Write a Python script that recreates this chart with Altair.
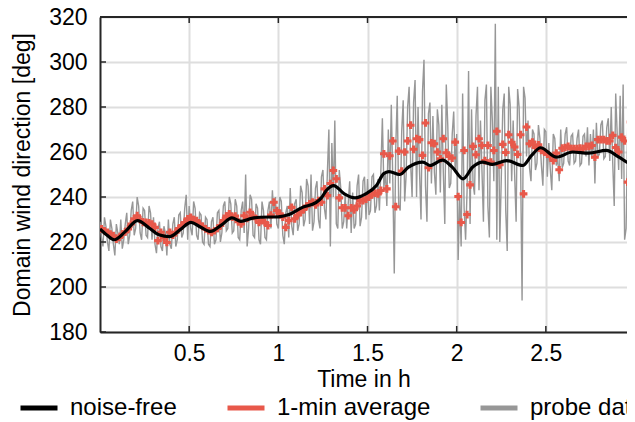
import altair as alt
import pandas as pd

# ---- noise-free reference signal (time in h, direction in deg) ----
NF_T = [0.0, 0.04, 0.08, 0.14, 0.21, 0.28, 0.33, 0.39, 0.45, 0.51, 0.56, 0.62, 0.68, 0.74,
        0.79, 0.85, 0.90, 1.00, 1.06, 1.135, 1.21, 1.24, 1.27, 1.31, 1.37, 1.43, 1.49, 1.55,
        1.59, 1.62, 1.68, 1.73, 1.81, 1.85, 1.92, 1.975, 2.036, 2.09, 2.145, 2.2, 2.28,
        2.37, 2.42, 2.47, 2.56, 2.65, 2.74, 2.84, 2.91, 2.98, 3.0]
NF_V = [225.8, 223.0, 221.0, 224.5, 229.5, 226.0, 223.2, 222.4, 225.5, 228.7, 226.8, 224.7,
        227.5, 230.7, 229.2, 230.5, 231.0, 231.2, 232.2, 235.4, 237.5, 239.5, 243.0, 245.1,
        241.4, 239.6, 241.4, 245.1, 250.3, 251.3, 250.0, 253.3, 255.5, 254.0, 256.4, 253.3,
        248.1, 253.3, 255.5, 254.5, 256.2, 254.0, 258.5, 261.9, 257.7, 260.0, 259.5, 260.7,
        257.7, 254.8, 255.0]

# ---- 1-min averages (one per minute) ----
AVG = [
    225.8, 225.0, 224.3, 223.5, 222.8, 221.3, 222.0, 223.5, 224.5, 225.8, 228.0, 230.3, 231.7, 230.0, 228.7,
    228.7, 228.5, 228.0, 226.5, 220.6, 224.3, 222.0, 219.8, 224.3, 223.0, 224.3, 226.0, 227.3, 228.7, 230.3,
    231.0, 230.0, 229.5, 228.0, 227.0, 225.8, 225.0, 224.3, 225.0, 226.0, 227.3, 229.5, 231.5, 232.5, 231.0,
    231.5, 229.0, 228.0, 231.7, 230.5, 233.2, 231.5, 230.3, 228.7, 229.5, 228.7, 227.3, 232.0, 237.7, 234.0,
    232.5, 231.0, 226.5, 229.5, 235.4, 230.3, 232.0, 233.2, 234.5, 236.0, 237.0, 237.7, 236.5, 238.4, 237.7,
    243.6, 240.6, 246.0, 251.8, 248.1, 239.6, 235.2, 235.2, 231.7, 235.2, 234.3, 236.0, 238.4, 238.4, 239.0,
    239.9, 241.0, 241.7, 241.4, 242.9, 259.2, 243.6, 258.3, 264.9, 235.7, 260.4, 251.5, 260.0, 264.9, 271.9,
    261.2, 265.9, 265.5, 258.5, 272.9, 253.0, 264.1, 263.7, 260.0, 257.0, 265.9, 259.7, 258.0, 257.3, 264.4,
    240.2, 228.7, 260.7, 232.2, 245.4, 262.5, 258.8, 265.9, 262.9, 256.2, 262.9, 255.5, 260.7, 269.2, 254.3,
    263.4, 259.8, 267.7, 264.3, 262.2, 258.9, 267.7, 241.4, 271.1, 263.7, 264.4, 262.0, 263.2, 260.7, 260.0,
    259.0, 258.0, 256.2, 259.5, 252.1, 261.7, 262.0, 262.5, 261.5, 261.5, 261.5, 261.7, 261.5, 262.5, 262.5,
    262.9, 257.7, 265.5, 265.5, 265.5, 264.9, 264.9, 267.4, 262.0, 260.0, 266.6, 264.9, 246.6, 273.3, 258.0,
]

# ---- raw probe data (one sample every 30 s) ----
PROBE = [
    229, 222, 218, 231, 227, 220, 216, 230, 226, 219, 214, 228, 224, 219, 230, 217, 221, 228, 233, 219,
    223, 234, 238, 223, 226, 240, 236, 224, 221, 235,
    234, 223, 222, 236, 233, 221, 231, 219, 215, 226, 229, 218, 216, 227, 224, 214, 230, 219, 217, 228,
    231, 218, 221, 232, 233, 222, 224, 235, 241, 221,
    236, 226, 223, 238, 235, 223, 221, 233, 232, 220, 219, 231, 230, 219, 218, 229, 231, 219, 221, 233,
    234, 220, 224, 236, 238, 225, 226, 240, 237, 224,
    225, 239, 236, 222, 221, 234, 238, 224, 250, 218, 226, 241, 239, 223, 222, 237, 235, 221, 219, 238,
    234, 222, 221, 234, 238, 226, 243, 231, 240, 228,
    226, 240, 238, 223, 219, 233, 236, 222, 244, 227, 223, 237, 239, 225, 228, 245, 242, 227, 230, 248,
    245, 228, 250, 225, 229, 244, 247, 230, 226, 249,
    252, 235, 230, 251, 270, 218, 264, 240, 274, 228, 226, 252, 244, 226, 229, 241, 226, 237, 247, 224,
    242, 226, 228, 245, 250, 227, 231, 247, 249, 230,
    248, 232, 234, 249, 250, 233, 236, 248, 234, 252, 275, 244, 251, 236, 270, 246, 281, 248, 206, 262,
    285, 236, 234, 269, 283, 238, 250, 280, 289, 255,
    240, 282, 292, 240, 280, 251, 230, 287, 301, 245, 229, 277, 282, 246, 276, 251, 241, 279, 272, 242,
    281, 251, 228, 290, 272, 244, 246, 268, 278, 251,
    268, 212, 240, 218, 286, 235, 221, 243, 296, 228, 279, 246, 241, 276, 289, 243, 274, 252, 229, 283,
    290, 236, 222, 289, 274, 247, 317, 221, 289, 220,
    248, 279, 286, 234, 216, 289, 281, 247, 274, 250, 229, 288, 280, 255, 194, 289, 284, 258, 274, 253,
    247, 270, 268, 252, 255, 272, 266, 254, 245, 270,
    269, 249, 264, 252, 243, 268, 266, 254, 257, 247, 270, 253, 255, 268, 271, 256, 254, 267, 268, 255,
    256, 266, 270, 254, 255, 267, 268, 258, 271, 254,
    268, 257, 270, 246, 273, 258, 259, 272, 274, 257, 258, 271, 275, 256, 280, 255, 236, 286, 268, 252,
    285, 248, 290, 221, 226, 268, 317, 230, 224, 292,
]

X_TICKS = [0.5, 1, 1.5, 2, 2.5]
Y_TICKS = [180, 200, 220, 240, 260, 280, 300, 320]
X_VISIBLE = [0, 2.955]   # the figure is cropped a little before 3 h

C_BLACK = "#000000"
C_RED = "#e8584a"
C_GRAY = "#979797"
AX = "#262626"
FONT = "Liberation Sans"
W, H = 527, 315
LEG_Y = 370

nf = pd.DataFrame({"t": NF_T, "v": NF_V, "s": "noise-free"})
avg = pd.DataFrame({"t": [(j + 0.5) / 60 for j in range(len(AVG))], "v": AVG, "s": "1-min average"})
probe = pd.DataFrame({"t": [i / 120 for i in range(len(PROBE))], "v": PROBE, "s": "probe data"})
xt = pd.DataFrame({"v": X_TICKS})
yt = pd.DataFrame({"v": Y_TICKS})

xs = alt.Scale(domain=X_VISIBLE, nice=False, zero=False)
ys = alt.Scale(domain=[180, 320], nice=False, zero=False)
x_enc = alt.X("t:Q", scale=xs, title="Time in h",
              axis=alt.Axis(values=X_TICKS, format="~g", titlePadding=3, labelPadding=10))
y_enc = alt.Y("v:Q", scale=ys, title="Domain wind direction [deg]",
              axis=alt.Axis(values=Y_TICKS, titlePadding=14, labelPadding=13))


def leg(x, color):
    return alt.Legend(orient="none", legendX=x, legendY=LEG_Y, title=None,
                      symbolType="stroke", symbolStrokeColor=color, symbolStrokeWidth=5,
                      symbolSize=1369, labelFontSize=24, labelFont=FONT, labelColor="#000000",
                      labelOffset=10, padding=0)


probe_l = alt.Chart(probe).mark_line(strokeWidth=1.4, clip=True).encode(
    x=x_enc, y=y_enc,
    color=alt.Color("s:N", scale=alt.Scale(domain=["probe data"], range=[C_GRAY]),
                    legend=leg(378, C_GRAY)))

avg_l = alt.Chart(avg).mark_point(shape="cross", filled=True, size=60, opacity=1, clip=True).encode(
    x="t:Q", y="v:Q",
    color=alt.Color("s:N", scale=alt.Scale(domain=["1-min average"], range=[C_RED]),
                    legend=leg(125, C_RED)))

nf_l = alt.Chart(nf).mark_line(strokeWidth=3.2, interpolate="monotone", clip=True).encode(
    x="t:Q", y="v:Q",
    color=alt.Color("s:N", scale=alt.Scale(domain=["noise-free"], range=[C_BLACK]),
                    legend=leg(-82, C_BLACK)))

tick_style = dict(color=AX, strokeWidth=1.5)
xb = alt.Chart(xt).mark_rule(**tick_style).encode(x="v:Q", y=alt.value(H), y2=alt.value(H - 6))
xtop = alt.Chart(xt).mark_rule(**tick_style).encode(x="v:Q", y=alt.value(0), y2=alt.value(6))
yl = alt.Chart(yt).mark_rule(**tick_style).encode(y="v:Q", x=alt.value(0), x2=alt.value(6))
top = alt.Chart(xt).mark_rule(color=AX, strokeWidth=2).encode(
    y=alt.value(0), x=alt.value(0), x2=alt.value(W))

chart = alt.layer(probe_l, avg_l, nf_l, xb, xtop, yl, top).resolve_scale(
    color="independent"
).properties(
    width=W, height=H,
    autosize=alt.AutoSizeParams(type="none"),
    padding={"left": 92, "top": 9, "right": 0, "bottom": 90},
).configure_view(stroke=None).configure_axis(
    labelFont=FONT, titleFont=FONT, labelFontSize=23, titleFontSize=23,
    labelColor="#000000", titleColor="#000000", titleFontWeight="normal",
    gridColor="#dedede", gridWidth=2, domainColor=AX, domainWidth=2,
    ticks=False,
)

chart.save("out.html", embed_options={"renderer": "svg", "actions": False})
